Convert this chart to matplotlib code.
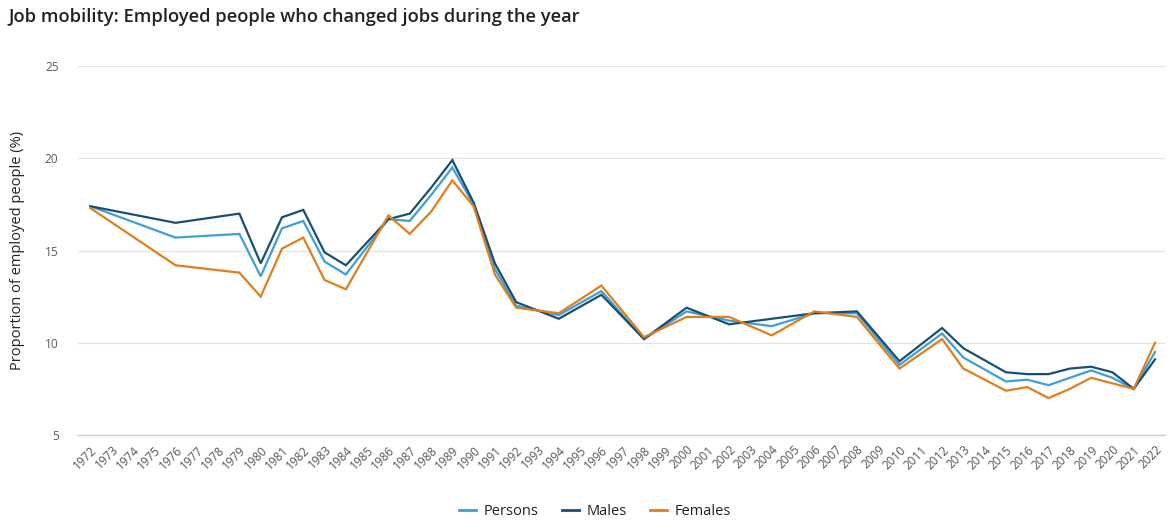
import matplotlib
matplotlib.use("Agg")
import matplotlib.pyplot as plt
from matplotlib.lines import Line2D

plt.rcParams['font.family'] = ['Open Sans', 'DejaVu Sans']

all_years = list(range(1972, 2023))
years = [1972, 1976, 1979, 1980, 1981, 1982, 1983, 1984, 1986, 1987, 1988, 1989,
         1990, 1991, 1992, 1994, 1996, 1998, 2000, 2002, 2004, 2006, 2008, 2010,
         2012, 2013, 2015, 2016, 2017, 2018, 2019, 2020, 2021, 2022]
persons = [17.4, 15.7, 15.9, 13.6, 16.2, 16.6, 14.4, 13.7, 16.7, 16.6, 18.0, 19.5,
           17.5, 14.0, 12.0, 11.5, 12.8, 10.2, 11.7, 11.2, 10.9, 11.6, 11.6, 8.8,
           10.5, 9.2, 7.9, 8.0, 7.7, 8.1, 8.5, 8.1, 7.5, 9.5]
males = [17.4, 16.5, 17.0, 14.3, 16.8, 17.2, 14.9, 14.2, 16.7, 17.0, 18.4, 19.9,
         17.6, 14.3, 12.2, 11.3, 12.6, 10.2, 11.9, 11.0, 11.3, 11.6, 11.7, 9.0,
         10.8, 9.7, 8.4, 8.3, 8.3, 8.6, 8.7, 8.4, 7.5, 9.1]
females = [17.3, 14.2, 13.8, 12.5, 15.1, 15.7, 13.4, 12.9, 16.9, 15.9, 17.1, 18.8,
           17.4, 13.7, 11.9, 11.6, 13.1, 10.3, 11.4, 11.4, 10.4, 11.7, 11.4, 8.6,
           10.2, 8.6, 7.4, 7.6, 7.0, 7.5, 8.1, 7.8, 7.5, 10.0]
series_names = ['Persons', 'Males', 'Females']
colors = ['#3E9FD8', '#1B4F72', '#E07F1C']
y_ticks = [5, 10, 15, 20, 25]

fig = plt.figure(figsize=(11.71, 5.29), dpi=100)
ax = fig.add_axes([0.0666, 0.1777, 0.9283, 0.6975])

for vals, c in zip([persons, males, females], colors):
    ax.plot(years, vals, color=c, lw=1.6, solid_joinstyle='miter', zorder=3)

ax.set_xlim(1971.42, 2022.47)
ax.set_ylim(5, 25)
ax.set_yticks(y_ticks)
ax.set_yticklabels([str(v) for v in y_ticks], fontsize=8.6, color='#5a5a5a')
ax.set_xticks(all_years)
ax.set_xticklabels([str(y) for y in all_years], rotation=45, ha='right',
                   rotation_mode='anchor', fontsize=8.5, color='#555555')
ax.tick_params(axis='both', length=0)
ax.tick_params(axis='y', pad=14)
ax.tick_params(axis='x', pad=6)
ax.grid(axis='y', color='#e3e3e3', lw=0.9, zorder=0)
for s in ['top', 'right', 'left']:
    ax.spines[s].set_visible(False)
ax.spines['bottom'].set_color('#c9d1e0')
ax.spines['bottom'].set_linewidth(1.0)

ax.set_ylabel('Proportion of employed people (%)', fontsize=10.5, color='#222222', labelpad=14)

fig.text(0.007, 0.967, 'Job mobility: Employed people who changed jobs during the year',
         fontsize=13.2, color='#222222', ha='left', va='center', fontweight='semibold')

handles = [Line2D([0], [0], color=c, lw=2) for c in colors]
fig.legend(handles, series_names, loc='center', bbox_to_anchor=(0.508, 0.033), ncol=3,
           frameon=False, fontsize=10.5, handlelength=1.2, handletextpad=0.5,
           columnspacing=1.6, labelcolor='#222222')

fig.savefig('out.png', dpi=100)
